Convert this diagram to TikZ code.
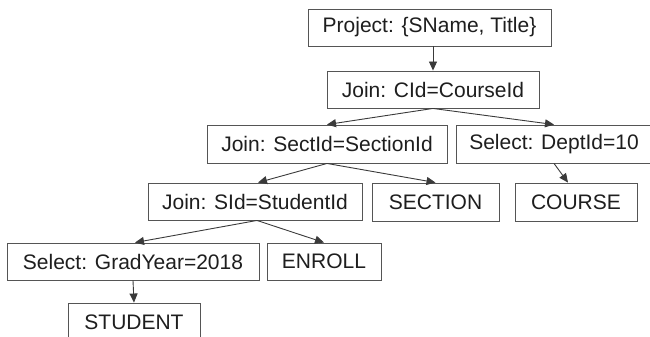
\documentclass[tikz,border=0pt]{standalone}
\usepackage{fontspec}
\setmainfont{Liberation Sans}
\usetikzlibrary{arrows.meta}
\definecolor{boxgray}{HTML}{555555}
\definecolor{linegray}{HTML}{3A3A3A}
\definecolor{textdark}{HTML}{1E1E1E}
\begin{document}
\begin{tikzpicture}[x=1pt,y=-1pt,
  opbox/.style={draw=boxgray, line width=0.9pt, fill=white, text=textdark,
    font=\fontsize{21}{24}\selectfont, minimum height=37pt, inner sep=0pt, anchor=center},
  link/.style={draw=linegray, line width=0.9pt, -{Triangle[length=9pt,width=8pt]}}]
\useasboundingbox (0,0) rectangle (650,337);
\clip (0,0) rectangle (650,337);
\node[opbox, minimum width=243pt] (proj) at (429.5,27.5) {Project: \{SName, Title\}};
\node[opbox, minimum width=212pt] (cid) at (433,89.5) {Join: CId=CourseId};
\node[opbox, minimum width=240pt, minimum height=38pt] (sect) at (327,144) {Join: SectId=SectionId};
\node[opbox, minimum width=196pt, minimum height=38pt] (sel) at (554,144) {Select: DeptId=10};
\node[opbox, minimum width=214pt] (sid) at (255,201.5) {Join: SId=StudentId};
\node[opbox, minimum width=127pt, minimum height=38pt] (section) at (435.5,202) {SECTION};
\node[opbox, minimum width=122pt, minimum height=38pt] (course) at (576,202) {COURSE};
\node[opbox, minimum width=252pt] (grad) at (133,261.5) {Select: GradYear=2018};
\node[opbox, minimum width=114pt] (enroll) at (324,261.5) {ENROLL};
\node[opbox, minimum width=132pt, minimum height=38pt] (student) at (134,322) {STUDENT};
\draw[link] (proj.south -| cid.north) -- (cid.north);
\draw[link] (cid.south) -- (sect.north);
\draw[link] (cid.south) -- (sel.north);
\draw[link] (sect.south) -- ([xshift=3pt]sid.north);
\draw[link] (sect.south) -- (section.north);
\draw[link] (sel.south) -- ([xshift=-8pt]course.north);
\draw[link] ([xshift=2pt]sid.south) -- ([xshift=2pt]grad.north);
\draw[link] ([xshift=2pt]sid.south) -- (enroll.north);
\draw[link] (grad.south) -- (student.north);
\end{tikzpicture}
\end{document}
